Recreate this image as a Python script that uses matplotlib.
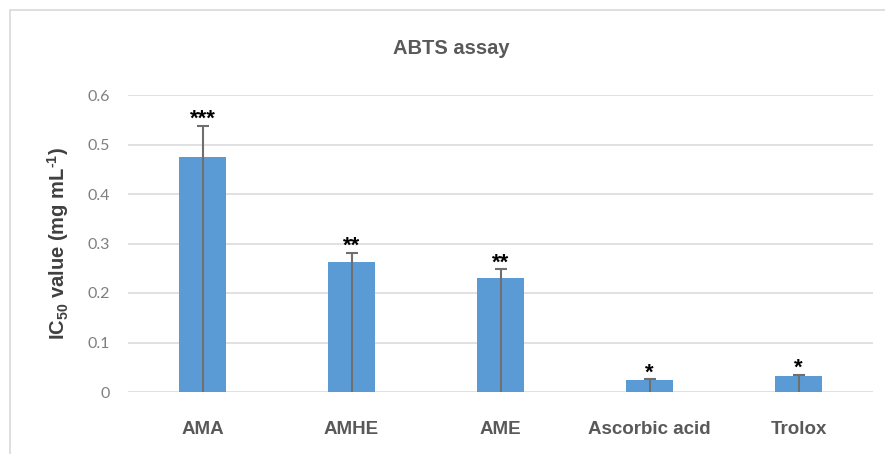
import matplotlib.pyplot as plt
from matplotlib.patches import Rectangle
import numpy as np

samples = ['AMA', 'AMHE', 'AME', 'Ascorbic acid', 'Trolox']
ic50 = [0.475, 0.263, 0.230, 0.024, 0.032]
err_up = [0.063, 0.018, 0.018, 0.002, 0.003]
stars = ['***', '**', '**', '*', '*']

plt.rcParams['font.family'] = ['Liberation Sans', 'DejaVu Sans']
plt.rcParams['mathtext.fontset'] = 'custom'
plt.rcParams['mathtext.rm'] = 'Liberation Sans:bold'
plt.rcParams['mathtext.it'] = 'Liberation Sans:bold'
plt.rcParams['mathtext.bf'] = 'Liberation Sans:bold'

fig = plt.figure(figsize=(8.85, 4.54), dpi=100)
ax = fig.add_axes([128 / 885, 1 - 392 / 454, 745 / 885, 297 / 454])

# outer chart frame (light gray), cut off on the right and bottom
fig.patches.append(Rectangle((10 / 885, -0.1), 1.2, 1 - 10 / 454 + 0.1,
                             transform=fig.transFigure, fill=False,
                             edgecolor='#d9d9d9', lw=1.2, zorder=0))

x = np.arange(len(samples))
vals = np.array(ic50)
ax.bar(x, vals, width=0.315, color='#5b9bd5', zorder=2)

# error line runs from zero up to value + error, cap only on top
eb = ax.errorbar(x, vals, yerr=[vals, err_up], fmt='none', ecolor='#6f6f6f',
                 elinewidth=1.5, capsize=4, capthick=1.5, zorder=3)
eb[1][0].set_visible(False)

for xi, v, e, s in zip(x, vals, err_up, stars):
    ax.annotate(s, (xi, v + e), xytext=(0, 0.5), textcoords='offset points',
                ha='center', va='baseline', fontsize=16, fontweight='bold',
                color='black')

ax.set_xlim(-0.5, len(samples) - 0.5)
ax.set_ylim(0, 0.6)
ax.set_yticks([0, 0.1, 0.2, 0.3, 0.4, 0.5, 0.6])
ax.set_yticklabels(['0', '0.1', '0.2', '0.3', '0.4', '0.5', '0.6'])
ax.set_xticks(x)
ax.set_xticklabels(samples, fontsize=13.5, fontweight='bold', color='#595959')
for lbl in ax.get_yticklabels():
    lbl.set_fontfamily(['Lato', 'DejaVu Sans'])
    lbl.set_fontsize(11.5)
    lbl.set_color('#7f7f7f')
ax.tick_params(axis='x', length=0, pad=21)
ax.tick_params(axis='y', length=0, pad=13)
ax.grid(axis='y', color='#d9d9d9', lw=1.1, zorder=0)
ax.set_axisbelow(True)
for sp in ax.spines.values():
    sp.set_visible(False)

ax.set_ylabel(r'IC$_{50}$ value (mg mL$^{\text{-}1}$)', fontsize=14.5,
              fontweight='bold', color='#404040', labelpad=12)
fig.text(451 / 885, 1 - 48 / 454, 'ABTS assay', ha='center', va='center',
         fontsize=14.5, fontweight='bold', color='#595959')

fig.savefig('out.png', dpi=100)
